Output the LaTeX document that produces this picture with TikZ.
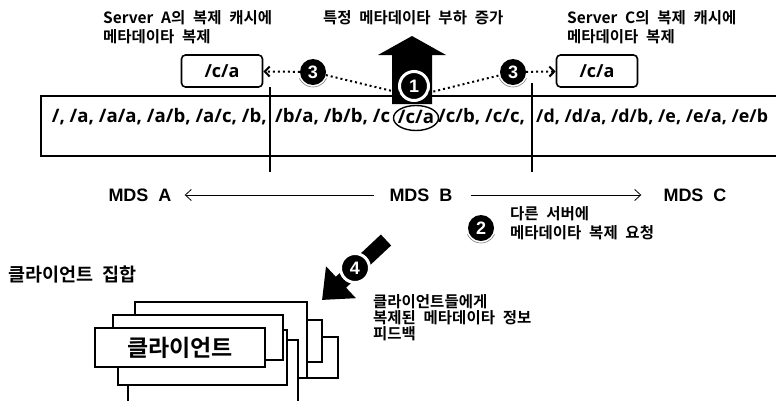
\documentclass[tikz,border=0pt]{standalone}
\usepackage{fontspec}
\setmainfont{Open Sans}
\newfontfamily\kr{Noto Sans CJK KR}[BoldFont={* Bold}, WordSpace=2.2]
\newfontfamily\mds{Liberation Sans}
\usetikzlibrary{arrows.meta,shapes.geometric,calc}
\tikzset{
  krlabel/.style={font=\kr\bfseries\fontsize{15.5}{19}\selectfont, align=left, inner sep=0pt, anchor=west},
  num/.style={circle, fill=black, text=white, inner sep=0pt, minimum size=26pt, font=\mds\bfseries\fontsize{18}{18}\selectfont},
  ringnum/.style={num, draw=white, line width=3pt, minimum size=29pt},
  cachebox/.style={draw, rounded corners=4pt, line width=1.6pt, minimum width=81pt, minimum height=32pt, inner sep=0pt, font=\bfseries\fontsize{18}{18}\selectfont},
  card/.style={draw, fill=white, line width=1.3pt},
  dots/.style={line width=2pt, dash pattern=on 2pt off 3pt},
  mdsarrow/.style={-{Straight Barb[length=6pt,width=11pt]}, line width=0.8pt},
  mdslabel/.style={font=\mds\bfseries\fontsize{18}{18}\selectfont, inner sep=0pt},
  pathtext/.style={font=\bfseries\fontsize{18.6}{19}\selectfont, inner sep=0pt},
  shadowarc/.style={gray, line width=0.6pt},
}
\begin{document}
\begin{tikzpicture}[x=1pt,y=-1pt]
  \useasboundingbox (0,0) rectangle (776,400);
  % namespace bar
  \draw[line width=1.4pt] (776,96) -- (41,96) -- (41,156) -- (776,156);
  \node[pathtext, anchor=east] (pa) at (267,117) {/, /a, /a/a, /a/b, /a/c, /b,};
  \node[pathtext, anchor=west] (pb) at (275,117) {/b/a, /b/b, /c};
  \node[pathtext] (phot) at (416,117) {/c/a};
  \node[pathtext, anchor=west] (pc) at (438,117) {/c/b, /c/c,};
  \node[pathtext, anchor=west, font=\bfseries\fontsize{17.8}{19}\selectfont] (pd) at (536,117) {/d, /d/a, /d/b, /e, /e/a, /e/b};
  \node[ellipse, draw, line width=1.4pt, minimum width=45pt, minimum height=25pt, inner sep=0pt] (hot) at (416,118) {};
  \draw[line width=1.8pt] (270,87) -- (270,172);
  \draw[line width=1.8pt] (532,83) -- (532,172);
  % load arrow
  \fill (392,104) -- (392,55) -- (378,55) -- (412,36) -- (446,55) -- (432,55) -- (432,104) -- cycle;
  \node[ringnum] (n1) at (414,86) {1};
  \node[krlabel] (load) at (323,18) {특정 메타데이타 부하 증가};
  % replica caches
  \node[cachebox] (boxA) at (222,71) {/c/a};
  \node[cachebox] (boxC) at (597,71) {/c/a};
  \node[num] (n3a) at (313,72) {3};
  \node[num] (n3c) at (513,72) {3};
  \draw[shadowarc] ($(n3a)+(205:15pt)$) arc[start angle=205, end angle=335, radius=15pt];
  \draw[shadowarc] ($(n3c)+(205:15pt)$) arc[start angle=205, end angle=335, radius=15pt];
  \draw[dots] (n3a) -- (n1.205);
  \draw[dots] (n1.335) -- (n3c);
  \draw[dots, -{Straight Barb[length=5pt,width=10pt]}] (n3a) -- (boxA);
  \draw[dots, -{Straight Barb[length=5pt,width=10pt]}] (n3c) -- (boxC);
  \node[krlabel] (capA) at (103,27.5) {Server A의 복제 캐시에\\메타데이타 복제};
  \node[krlabel] (capC) at (567,27.5) {Server C의 복제 캐시에\\메타데이타 복제};
  % servers
  \node[mdslabel] (mdsA) at (140,195) {MDS\ \ A};
  \node[mdslabel] (mdsB) at (421,195) {MDS\ \ B};
  \node[mdslabel] (mdsC) at (695,195) {MDS\ \ C};
  \draw[mdsarrow, shorten <=15pt, shorten >=13pt] (mdsB) -- (mdsA);
  \draw[mdsarrow, shorten <=18pt, shorten >=22pt] (mdsB) -- (mdsC);
  \node[num] (n2) at (481,228) {2};
  \draw[shadowarc] ($(n2)+(205:15pt)$) arc[start angle=205, end angle=335, radius=15pt];
  \node[krlabel] (req) at (510,223.5) {다른 서버에\\메타데이타 복제 요청};
  % feedback to clients
  \coordinate (a4s) at (386,240);
  \coordinate (a4e) at (322,300);
  \draw[line width=15pt, -{Triangle[length=26pt,width=42pt]}] (a4s) -- (a4e);
  \node[ringnum] (n4) at (355,268) {4};
  \node[krlabel, font=\kr\bfseries\fontsize{15.5}{16}\selectfont] (fb) at (373,318) {클라이언트들에게\\복제된 메타데이타 정보\\피드백};
  \node[krlabel, font=\kr\bfseries\fontsize{18.5}{18.5}\selectfont] (cset) at (8,275) {클라이언트 집합};
  \foreach \xa/\ya/\xb/\yb in {220/337/338/378, 200/320/322/362, 135/302/307/378,
      128/340/298/410, 118/330/287/385, 113/315/283/360}
    \draw[card] (\xa,\ya) rectangle (\xb,\yb);
  \node[card, minimum width=170pt, minimum height=39pt, font=\kr\bfseries\fontsize{23}{23}\selectfont] (client) at (180,347.5) {클라이언트};
\end{tikzpicture}
\end{document}
